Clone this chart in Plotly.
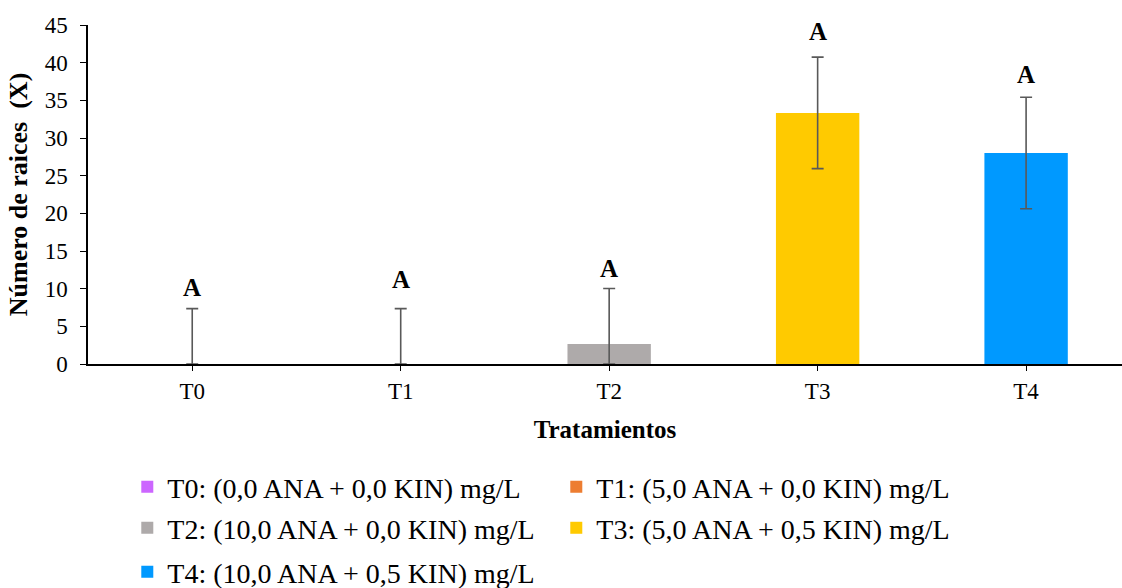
import plotly.graph_objects as go

categories = ["T0", "T1", "T2", "T3", "T4"]
legend_names = [
    "T0: (0,0 ANA + 0,0 KIN) mg/L",
    "T1: (5,0 ANA + 0,0 KIN) mg/L",
    "T2: (10,0 ANA + 0,0 KIN) mg/L",
    "T3: (5,0 ANA + 0,5 KIN) mg/L",
    "T4: (10,0 ANA + 0,5 KIN) mg/L",
]
means = [0.0, 0.0, 2.67, 33.33, 28.0]
err_plus = [7.35, 7.35, 7.35, 7.4, 7.4]
err_minus = [0.0, 0.0, 2.67, 7.4, 7.4]
letters = ["A", "A", "A", "A", "A"]
letter_y = [10.2, 11.2, 12.7, 44.1, 38.4]
colors = ["#CC66FF", "#ED7D31", "#AEAAAA", "#FFCA00", "#0099FF"]
legend_ids = ["legend", "legend", "legend2", "legend2", "legend3"]

FONT = "Liberation Serif"

fig = go.Figure()
for i, cat in enumerate(categories):
    fig.add_trace(go.Bar(
        x=[i], y=[means[i]], name=legend_names[i],
        marker=dict(color=colors[i], line=dict(width=0)),
        width=0.4,
        legend=legend_ids[i],
        error_y=dict(type="data", symmetric=False,
                     array=[err_plus[i]], arrayminus=[err_minus[i]],
                     color="#595959", thickness=1.6, width=6),
    ))

for i, t in enumerate(letters):
    fig.add_annotation(x=i, y=letter_y[i], text="<b>%s</b>" % t, showarrow=False,
                       font=dict(family=FONT, size=25, color="black"),
                       xanchor="center", yanchor="middle")

leg_common = dict(orientation="h", xanchor="left", yanchor="middle",
                  font=dict(family=FONT, size=28, color="black"),
                  entrywidth=384, bgcolor="rgba(0,0,0,0)", borderwidth=0)

fig.update_layout(
    width=1122, height=588,
    margin=dict(l=88, r=0, t=25, b=224, autoexpand=False),
    plot_bgcolor="white", paper_bgcolor="white",
    barmode="overlay",
    showlegend=True,
    legend=dict(x=0.038, y=-0.363, **leg_common),
    legend2=dict(x=0.038, y=-0.484, **leg_common),
    legend3=dict(x=0.038, y=-0.614, **leg_common),
    xaxis=dict(
        range=[-0.5, 4.46],
        tickmode="array", tickvals=list(range(len(categories))), ticktext=categories,
        showline=True, linecolor="black", linewidth=1.5,
        ticks="outside", ticklen=5, tickcolor="black", tickwidth=1.2,
        ticklabelstandoff=1,
        showgrid=False, zeroline=False,
        tickfont=dict(family=FONT, size=23, color="black"),
        title=dict(text="<b>Tratamientos</b>", standoff=17,
                   font=dict(family=FONT, size=25, color="black")),
    ),
    yaxis=dict(
        range=[0, 45], tickmode="linear", tick0=0, dtick=5,
        showline=True, linecolor="black", linewidth=1.5,
        ticks="outside", ticklen=6, tickcolor="black", tickwidth=1.2,
        ticklabelstandoff=8,
        showgrid=False, zeroline=False,
        tickfont=dict(family=FONT, size=23, color="black"),
        title=dict(text="<b>Número de raices&nbsp; (X)</b>", standoff=10,
                   font=dict(family=FONT, size=26, color="black")),
    ),
)

fig.write_html("out.html")
